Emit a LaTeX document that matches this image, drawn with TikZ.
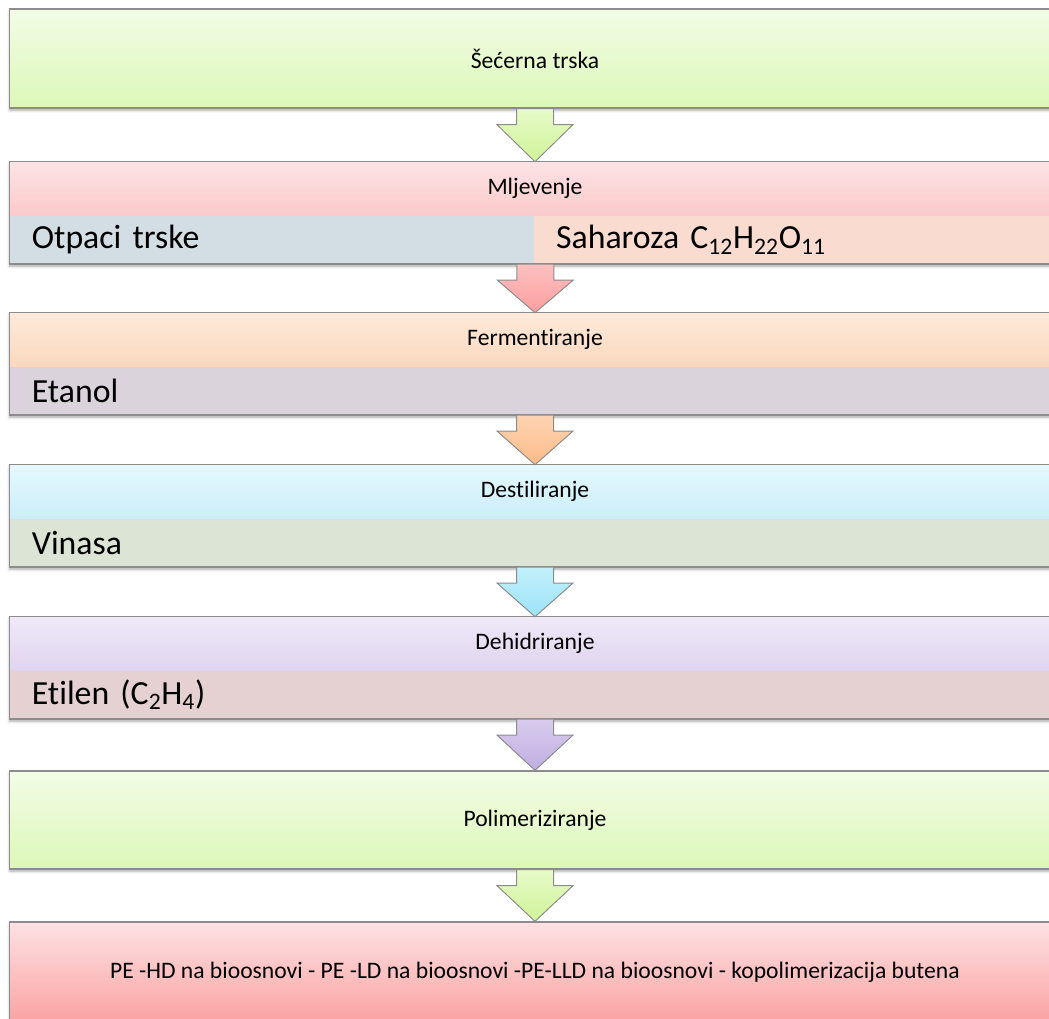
\documentclass[tikz,border=0pt]{standalone}
\usepackage{fontspec}
\setmainfont{Carlito}[Ligatures=NoCommon]
\usepackage{tikz}
\usetikzlibrary{positioning, fit, calc, shadows.blur, backgrounds}
\usepackage{xcolor}

\definecolor{lineGray}{HTML}{8C8C8C}
\definecolor{greenTop}{HTML}{F2FCE6}
\definecolor{greenBot}{HTML}{DCF8B8}
\definecolor{pinkTop}{HTML}{FDE3E4}
\definecolor{pinkBot}{HTML}{FBCACA}
\definecolor{orangeTop}{HTML}{FDEADB}
\definecolor{orangeBot}{HTML}{FBD8BE}
\definecolor{cyanTop}{HTML}{E5F8FD}
\definecolor{cyanBot}{HTML}{CBEEFB}
\definecolor{purpleTop}{HTML}{EFE9F8}
\definecolor{purpleBot}{HTML}{DFD4EF}
\definecolor{redTop}{HTML}{FDE2E3}
\definecolor{redBot}{HTML}{FBA2A2}
\definecolor{otpaciFill}{HTML}{D3DEE4}
\definecolor{saharozaFill}{HTML}{FADBCF}
\definecolor{etanolFill}{HTML}{DBD3DB}
\definecolor{vinasaFill}{HTML}{DCE5D5}
\definecolor{etilenFill}{HTML}{E5D0D2}
\definecolor{arrGreenA}{HTML}{E6FAC8}
\definecolor{arrGreenB}{HTML}{D0F498}
\definecolor{arrPinkA}{HTML}{FCC0C0}
\definecolor{arrPinkB}{HTML}{FC9E9E}
\definecolor{arrOrangeA}{HTML}{FDD3B2}
\definecolor{arrOrangeB}{HTML}{FBBC8A}
\definecolor{arrCyanA}{HTML}{C2EFFB}
\definecolor{arrCyanB}{HTML}{9CE3F8}
\definecolor{arrPurpleA}{HTML}{D8CCEE}
\definecolor{arrPurpleB}{HTML}{BFAEE1}

\begin{document}
\begin{tikzpicture}[
    x=0.025cm, y=-0.025cm,
    softshadow/.style={blur shadow={shadow xshift=0pt, shadow yshift=-1.5pt, shadow blur radius=2pt, shadow opacity=35}},
    stagebox/.style={rectangle, draw=lineGray, line width=0.9pt, minimum width=26.25cm, inner sep=0pt, align=center, font=\fontsize{16.8}{20}\selectfont, softshadow},
    header/.style={rectangle, minimum width=26.25cm, minimum height=1.33cm, inner sep=0pt, align=center, font=\fontsize{16.8}{20}\selectfont},
    row/.style={rectangle, text width=25.15cm, inner xsep=0.55cm, inner ysep=0pt, minimum height=1.2cm, align=left, font=\fontsize{24}{28}\selectfont},
    halfrow/.style={row, text width=12.025cm},
    outline/.style={rectangle, draw=lineGray, line width=0.9pt, inner sep=0pt},
    shadowbox/.style={rectangle, fill=white, inner sep=0pt, softshadow},
    flowarrow/.style={draw=lineGray, line width=0.7pt, line join=miter}
]
    \useasboundingbox (0,0) rectangle (1049,1018);
    \clip (0,0) rectangle (1049,1018);

    % Stages
    \node[stagebox, minimum height=2.475cm, top color=greenTop, bottom color=greenBot] (secer) at (535,58.5) {Šećerna trska};

    \node[header, top color=pinkTop, bottom color=pinkBot] (mlj) at (535,188.6) {Mljevenje};
    \node[halfrow, fill=otpaciFill, anchor=north west] (otpaci) at (mlj.south west) {Otpaci trske};
    \node[halfrow, fill=saharozaFill, right=-1pt of otpaci] (saharoza) {Saharoza C\textsubscript{12}H\textsubscript{22}O\textsubscript{11}};
    \node[outline, fit=(mlj)(otpaci)(saharoza)] (mljbox) {};

    \node[header, top color=orangeTop, bottom color=orangeBot] (ferm) at (535,339.6) {Fermentiranje};
    \node[row, fill=etanolFill, below=0pt of ferm] (etanol) {Etanol};
    \node[outline, fit=(ferm)(etanol)] (fermbox) {};

    \node[header, top color=cyanTop, bottom color=cyanBot] (dest) at (535,491.6) {Destiliranje};
    \node[row, fill=vinasaFill, below=0pt of dest] (vinasa) {Vinasa};
    \node[outline, fit=(dest)(vinasa)] (destbox) {};

    \node[header, top color=purpleTop, bottom color=purpleBot] (dehi) at (535,643.6) {Dehidriranje};
    \node[row, fill=etilenFill, below=0pt of dehi] (etilen) {Etilen (C\textsubscript{2}H\textsubscript{4})};
    \node[outline, fit=(dehi)(etilen)] (dehibox) {};

    \node[stagebox, minimum height=2.45cm, top color=greenTop, bottom color=greenBot] (polim) at (535,820) {Polimeriziranje};
    \node[stagebox, minimum height=2.5cm, top color=redTop, bottom color=redBot] (final) at (535,972) {PE -HD na bioosnovi - PE -LD na bioosnovi -PE-LLD na bioosnovi - kopolimerizacija butena};

    % Shadows of the two-part stages
    \begin{scope}[on background layer]
        \node[shadowbox, fit=(mlj)(otpaci)(saharoza)] (mljshadow) {};
        \node[shadowbox, fit=(ferm)(etanol)] (fermshadow) {};
        \node[shadowbox, fit=(dest)(vinasa)] (destshadow) {};
        \node[shadowbox, fit=(dehi)(etilen)] (dehishadow) {};
    \end{scope}

    % Block arrows between stages
    \foreach \src/\dst/\ca/\cb in {
        secer.south/mlj.north/arrGreenA/arrGreenB,
        otpaci.south east/ferm.north/arrPinkA/arrPinkB,
        etanol.south/dest.north/arrOrangeA/arrOrangeB,
        vinasa.south/dehi.north/arrCyanA/arrCyanB,
        etilen.south/polim.north/arrPurpleA/arrPurpleB,
        polim.south/final.north/arrGreenA/arrGreenB}
        \draw[flowarrow, top color=\ca, bottom color=\cb]
            ($(\src)+(-18.5,0)$) -- ($(\src)+(-18.5,16)$) -- ($(\src)+(-38,16)$) -- (\dst)
            -- ($(\src)+(38,16)$) -- ($(\src)+(18.5,16)$) -- ($(\src)+(18.5,0)$) -- cycle;
\end{tikzpicture}
\end{document}
